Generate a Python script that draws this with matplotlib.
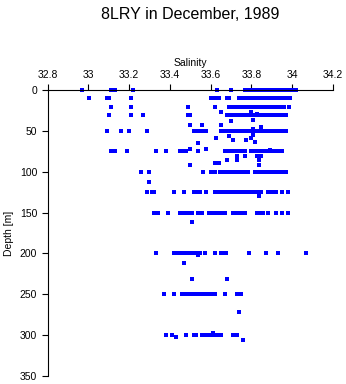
import matplotlib
matplotlib.use('Agg')
import matplotlib.pyplot as plt

plt.rcParams['font.family'] = ['Liberation Sans', 'DejaVu Sans']

# salinity readings at the standard depths (m)
sal_0 = [32.97, 33.11, 33.12, 33.13, 33.22, 33.63, 33.70, 33.77,
         33.79, 33.80, 33.81, 33.82, 33.83, 33.84, 33.85, 33.86, 33.87, 33.88, 33.89, 33.90,
         33.91, 33.92, 33.93, 33.94, 33.95, 33.96, 33.97, 33.98, 33.99, 34.00, 34.01, 34.02]
sal_10 = [33.005, 33.09, 33.10, 33.21, 33.60, 33.61, 33.62, 33.63, 33.64, 33.68, 33.69,
          33.74, 33.75, 33.76, 33.77, 33.78, 33.79, 33.80, 33.81, 33.82, 33.83, 33.84, 33.85,
          33.86, 33.87, 33.88, 33.89, 33.90, 33.91, 33.92, 33.93, 33.94, 33.95, 33.96, 33.97,
          33.98, 33.99]
sal_20 = [33.11, 33.21, 33.49, 33.62, 33.69, 33.70, 33.72, 33.73,
          33.75, 33.76, 33.77, 33.78, 33.79, 33.80, 33.81, 33.82, 33.83, 33.84, 33.85, 33.86,
          33.87, 33.88, 33.89, 33.90, 33.91, 33.92, 33.93, 33.94, 33.95, 33.96, 33.985]
sal_30 = [33.10, 33.21, 33.27, 33.49, 33.50, 33.68, 33.69, 33.70, 33.72, 33.73,
          33.75, 33.76, 33.77, 33.78, 33.79, 33.80, 33.81, 33.82, 33.83, 33.84, 33.85, 33.86,
          33.87, 33.88, 33.89, 33.90, 33.91, 33.92, 33.93, 33.94, 33.95, 33.96, 33.97]
sal_50 = [33.09, 33.16, 33.20, 33.29, 33.52, 33.53, 33.54, 33.56, 33.58, 33.65, 33.66,
          33.67, 33.68, 33.70, 33.71, 33.72, 33.74, 33.75, 33.76,
          33.78, 33.79, 33.80, 33.81, 33.82, 33.83, 33.84, 33.85, 33.86, 33.87, 33.88, 33.89,
          33.90, 33.91, 33.92, 33.93, 33.94, 33.95, 33.96, 33.97]
sal_75 = [33.11, 33.13, 33.19, 33.33, 33.38, 33.45, 33.46, 33.48, 33.54, 33.67, 33.68,
          33.69, 33.70, 33.72, 33.73, 33.75, 33.77,
          33.80, 33.81, 33.82, 33.83, 33.84, 33.85, 33.86, 33.87, 33.88, 33.89, 33.90, 33.91,
          33.92, 33.93, 33.94, 33.95]
sal_100 = [33.26, 33.30, 33.565, 33.60, 33.61, 33.62, 33.645, 33.66, 33.67, 33.68,
           33.70, 33.71, 33.72, 33.73, 33.74, 33.75, 33.76, 33.77, 33.785,
           33.82, 33.83, 33.84, 33.85, 33.86, 33.87, 33.88, 33.89, 33.895,
           33.91, 33.92, 33.93, 33.94, 33.95, 33.96, 33.97]
sal_125 = [33.29, 33.31, 33.32, 33.42, 33.47, 33.52, 33.53, 33.54, 33.55, 33.58,
           33.62, 33.63, 33.64, 33.65, 33.66, 33.67, 33.69, 33.70, 33.71, 33.72, 33.73,
           33.74, 33.75, 33.76, 33.77, 33.78, 33.79, 33.80, 33.82, 33.83, 33.84, 33.85,
           33.88, 33.89, 33.90, 33.92, 33.95, 33.98]
sal_150 = [33.32, 33.34, 33.39, 33.45, 33.46, 33.47, 33.48, 33.49, 33.50, 33.51, 33.54,
           33.56, 33.59, 33.60, 33.61, 33.62, 33.63, 33.64, 33.65, 33.66, 33.67, 33.71,
           33.73, 33.75, 33.77, 33.83, 33.84, 33.85, 33.86, 33.88, 33.92, 33.95, 33.98]
sal_200 = [33.33, 33.42, 33.43, 33.44, 33.45, 33.46, 33.47, 33.48, 33.49, 33.50, 33.51,
           33.52, 33.53, 33.54, 33.55, 33.575, 33.62, 33.65, 33.66, 33.675, 33.79, 33.87,
           33.93, 34.07]
sal_250 = [33.37, 33.42, 33.46, 33.47, 33.48, 33.49, 33.50, 33.51, 33.52, 33.53, 33.54,
           33.56, 33.57, 33.58, 33.59, 33.60, 33.61, 33.62, 33.67, 33.73, 33.74, 33.75]
sal_300 = [33.38, 33.41, 33.48, 33.52, 33.53, 33.56, 33.57, 33.58, 33.59, 33.60,
           33.62, 33.63, 33.64, 33.65, 33.71, 33.72, 33.73]

# readings at odd depths
sal_misc = [33.65, 33.80, 33.83, 33.70, 33.81, 33.50, 33.56, 33.65, 33.85, 33.81,
            33.85, 33.69, 33.625, 33.81, 33.775, 33.80, 33.82, 33.71, 33.54, 33.50,
            33.58, 33.89, 33.73, 33.77, 33.83, 33.85, 33.68, 33.73, 33.84, 33.62,
            33.64, 33.50, 33.84, 33.30, 33.84, 33.51, 33.54, 33.47, 33.51, 33.68,
            33.74, 33.43, 33.61, 33.76]
depth_misc = [27, 27, 29, 38, 37, 42, 42, 42, 45, 47,
              47, 56, 58, 55, 61, 58, 63, 61, 65, 72,
              72, 73, 81, 81, 81, 80, 86, 86, 86, 89,
              89, 92, 92, 112, 130, 161, 202, 212, 232, 231,
              272, 302, 298, 306]

levels = [0, 10, 20, 30, 50, 75, 100, 125, 150, 200, 250, 300]
level_sal = [sal_0, sal_10, sal_20, sal_30, sal_50, sal_75, sal_100, sal_125,
             sal_150, sal_200, sal_250, sal_300]

sal = list(sal_misc)
depth = list(depth_misc)
for d, s in zip(levels, level_sal):
    sal += s
    depth += [d] * len(s)

fig = plt.figure(figsize=(3.46, 3.84), dpi=100)
ax = fig.add_axes([0.1379, 0.0216, 0.8237, 0.7432])
ax.plot(sal, depth, 's', color='#0000ff', markersize=2.2, markeredgewidth=0,
        clip_on=False, antialiased=False)

ax.set_xlim(32.8, 34.2)
ax.set_ylim(350, 0)
ax.set_xticks([32.8, 33, 33.2, 33.4, 33.6, 33.8, 34, 34.2])
ax.set_xticklabels(['32.8', '33', '33.2', '33.4', '33.6', '33.8', '34', '34.2'])
ax.set_yticks([0, 50, 100, 150, 200, 250, 300, 350])
ax.xaxis.tick_top()
ax.xaxis.set_label_position('top')
ax.tick_params(direction='out', length=4.5, width=0.8, labelsize=7.5, pad=3)
ax.spines['right'].set_visible(False)
ax.spines['bottom'].set_visible(False)
ax.spines['top'].set_linewidth(0.8)
ax.spines['left'].set_linewidth(0.8)
ax.set_xlabel('Salinity', fontsize=7.5, labelpad=3)
ax.set_ylabel('Depth [m]', fontsize=7.5, labelpad=4)

fig.text(0.549, 0.963, '8LRY in December, 1989', ha='center', va='center', fontsize=11.5)

fig.savefig('out.png', dpi=100)
